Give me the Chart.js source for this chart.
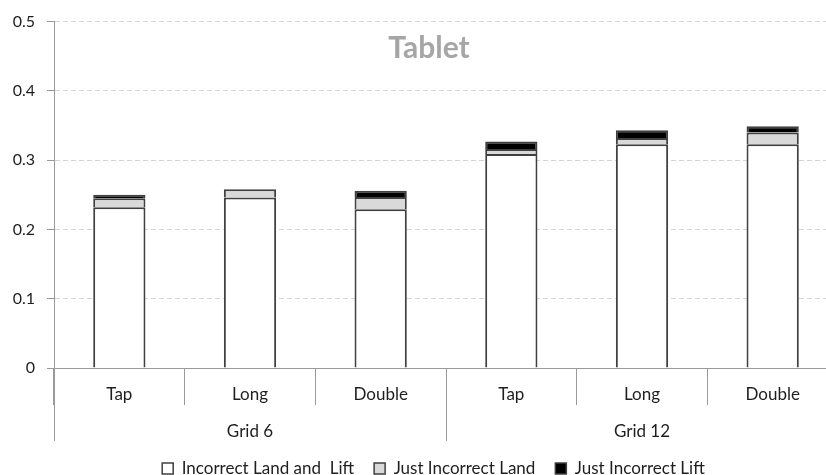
<!DOCTYPE html>
<html>
<head>
<meta charset="utf-8">
<script src="https://cdn.jsdelivr.net/npm/chart.js@4/dist/chart.umd.min.js"></script>
<style>
  html, body { margin: 0; padding: 0; background: #fff; overflow: hidden; }
  #wrap { width: 826px; height: 475px; overflow: hidden; }
  canvas { display: block; }
</style>
</head>
<body>
<div id="wrap"><canvas id="chart" width="867" height="487"></canvas></div>
<script>
// Tap modes within each grid size
const categories = ['Tap', 'Long', 'Double', 'Tap', 'Long', 'Double'];
const groups = ['Grid 6', 'Grid 12'];

// Error rates, stacked
const incorrectLandAndLift = [0.232, 0.246, 0.229, 0.309, 0.323, 0.323];
const justIncorrectLand    = [0.013, 0.012, 0.018, 0.007, 0.009, 0.017];
const justIncorrectLift    = [0.005, null,  0.009, 0.011, 0.011, 0.009];

const yTicks = [0, 0.1, 0.2, 0.3, 0.4, 0.5];
const chartTitle = 'Tablet';

const AXIS_GREY = '#9a9a9a';
const TEXT = '#1e1e1e';
const EDGE = '#404040';

// Two-line category labels: mode on the first line, grid size under the middle mode of each group
const perGroup = categories.length / groups.length;
const axisLabels = categories.map((c, i) =>
  i % perGroup === Math.floor(perGroup / 2) ? [c, groups[Math.floor(i / perGroup)]] : [c, '']
);

// Title sits inside the plot area, under the top gridline
const innerTitle = {
  id: 'innerTitle',
  afterDatasetsDraw(chart) {
    const { ctx } = chart;
    ctx.save();
    ctx.font = 'bold 30px Lato';
    ctx.fillStyle = '#a6a6a6';
    ctx.textAlign = 'center';
    ctx.textBaseline = 'alphabetic';
    ctx.fillText(chartTitle, 429, 58);
    ctx.restore();
  }
};

function draw() {
  Chart.defaults.font.family = 'Lato';
  Chart.defaults.font.size = 16;
  Chart.defaults.color = TEXT;

  const seg = (label, data, fill) => ({
    label,
    data,
    xAxisID: 'x',
    yAxisID: 'y',
    backgroundColor: fill,
    borderColor: EDGE,
    borderWidth: { top: 2, left: 2, right: 2, bottom: 0 },
    categoryPercentage: 1,
    barPercentage: 0.4
  });

  new Chart(document.getElementById('chart'), {
    type: 'bar',
    data: {
      labels: axisLabels,
      datasets: [
        seg('Incorrect Land and  Lift', incorrectLandAndLift, '#ffffff'),
        seg('Just Incorrect Land', justIncorrectLand, '#d9d9d9'),
        seg('Just Incorrect Lift', justIncorrectLift, '#000000')
      ]
    },
    options: {
      responsive: false,
      animation: false,
      layout: { padding: { top: 18, left: 0, right: 0, bottom: 0 } },
      scales: {
        x: {
          type: 'category',
          stacked: true,
          offset: true,
          position: 'bottom',
          grid: {
            offset: true,
            drawOnChartArea: false,
            drawTicks: true,
            tickLength: 37,
            color: AXIS_GREY,
            tickColor: AXIS_GREY
          },
          border: { display: true, color: AXIS_GREY, width: 1 },
          ticks: {
            padding: -28.5,
            maxRotation: 0,
            autoSkip: false,
            font: { size: 17, lineHeight: 37 / 17 },
            color: TEXT
          },
          afterFit(scale) { scale.height = 72; }
        },
        // group separators: full-depth lines at the edges of each grid group
        x2: {
          type: 'category',
          labels: groups,
          offset: true,
          position: 'bottom',
          weight: -1,
          grid: {
            offset: true,
            drawOnChartArea: false,
            drawTicks: true,
            tickLength: 73,
            color: AXIS_GREY,
            tickColor: AXIS_GREY
          },
          border: { display: false },
          ticks: { display: false },
          afterFit(scale) { scale.height = 0; }
        },
        y: {
          stacked: true,
          min: 0,
          max: 0.5,
          afterBuildTicks(scale) {
            scale.ticks = yTicks.map(v => ({ value: v }));
          },
          grid: {
            color: '#d4d4d4',
            tickColor: AXIS_GREY,
            tickLength: 7,
            tickBorderDash: []
          },
          border: { display: true, color: AXIS_GREY, width: 1, dash: [5, 3] },
          ticks: {
            padding: 12,
            font: { size: 16 },
            color: TEXT,
            callback: v => String(v)
          },
          afterFit(scale) { scale.width = 54; }
        },
        // empty right-hand margin so the plot runs on past the visible edge
        yRight: {
          type: 'linear',
          position: 'right',
          display: true,
          grid: { display: false },
          border: { display: false },
          ticks: { display: false },
          afterFit(scale) { scale.width = 29; }
        }
      },
      plugins: {
        title: { display: false },
        tooltip: { enabled: false },
        legend: {
          position: 'bottom',
          align: 'center',
          labels: {
            boxWidth: 11,
            boxHeight: 11,
            padding: 20,
            color: TEXT,
            font: { size: 17 }
          }
        }
      }
    },
    plugins: [innerTitle]
  });
}

if (document.fonts && document.fonts.load) {
  Promise.all([
    document.fonts.load('16px Lato'),
    document.fonts.load('bold 30px Lato')
  ]).then(draw, draw);
} else {
  draw();
}
</script>
</body>
</html>
